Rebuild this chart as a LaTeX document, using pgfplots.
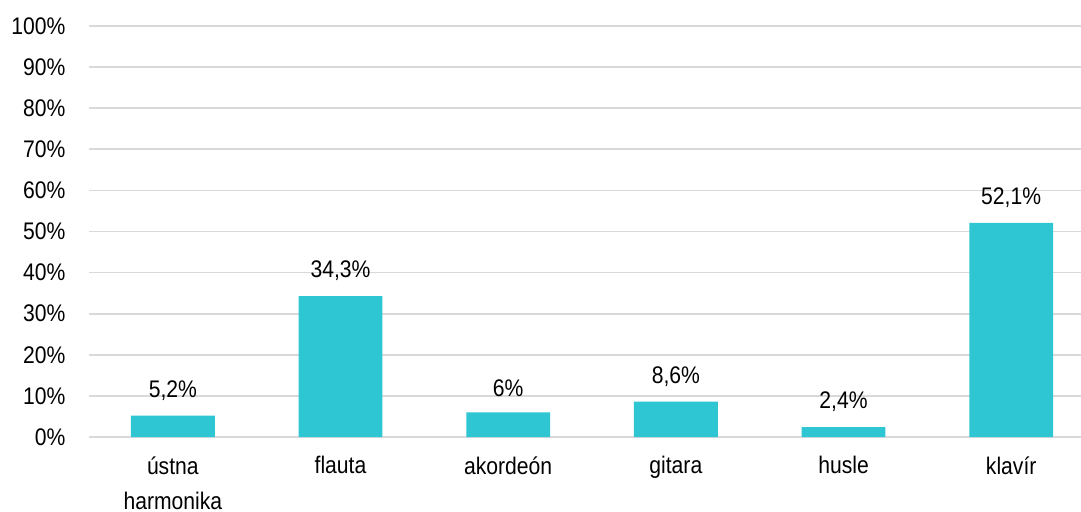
\documentclass[border=0pt]{standalone}
\usepackage{pgfplots}
\pgfplotsset{compat=1.18}
\usepackage{fontspec}
\setmainfont{Liberation Sans}[FakeStretch=0.88]
\definecolor{barc}{HTML}{2EC6D2}
\definecolor{gridc}{HTML}{D9D9D9}
\begin{document}
\begin{tikzpicture}
\begin{axis}[
  scale only axis,
  width=1006pt, height=411pt,
  xmin=-0.5, xmax=5.5, ymin=0, ymax=100,
  axis line style={draw=none},
  tick style={draw=none},
  ytick={0,10,...,100},
  yticklabel={\pgfmathprintnumber{\tick}\%},
  /pgf/number format/assume math mode=true,
  ymajorgrids,
  grid style={gridc, line width=1.6pt},
  xtick={0,1,2,3,4,5},
  xticklabels={{ústna\\harmonika},flauta,akordeón,gitara,husle,klavír},
  xticklabel style={align=center, font=\fontsize{24}{35}\selectfont, yshift=-16pt},
  yticklabel style={font=\fontsize{24}{28}\selectfont, xshift=-20pt},
  nodes near coords,
  point meta=explicit symbolic,
  every node near coord/.append style={font=\fontsize{24}{28}\selectfont, yshift=12pt, black},
  clip=false,
]
\addplot[ybar, bar width=0.50, fill=barc, draw=none] coordinates {
  (0,5.2) [5,2\%]
  (1,34.3) [34,3\%]
  (2,6) [6\%]
  (3,8.6) [8,6\%]
  (4,2.4) [2,4\%]
  (5,52.1) [52,1\%]
};
\end{axis}
\pgfresetboundingbox
\path[use as bounding box] ([shift={(-89pt,-74pt)}]current axis.south west) rectangle ([shift={(-14pt,26pt)}]current axis.north east);
\end{tikzpicture}
\end{document}
